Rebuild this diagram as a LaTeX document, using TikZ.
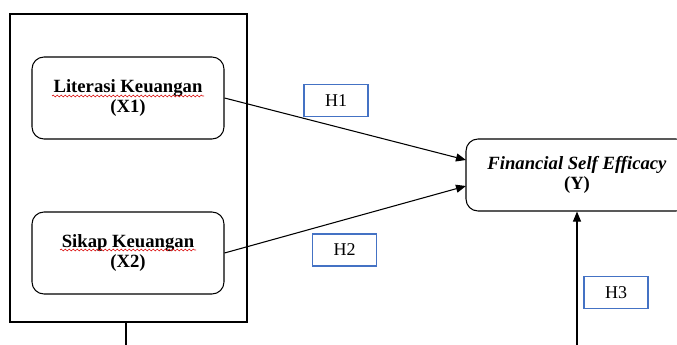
\documentclass[tikz,border=0pt]{standalone}
\usepackage{fontspec}
\setmainfont{Liberation Serif}
\usetikzlibrary{arrows.meta}
\usetikzlibrary{decorations.pathmorphing}

\definecolor{hblue}{RGB}{68,114,196}
\definecolor{spellred}{RGB}{220,30,30}

\begin{document}
\begin{tikzpicture}[x=0.75pt,y=-0.75pt,
		grp/.style={draw,line width=0.8pt,minimum width=177.75pt,minimum height=231pt,inner sep=0pt},
		var/.style={draw,line width=0.8pt,rounded corners=9pt,minimum width=144pt,minimum height=61.5pt,
			inner sep=0pt,align=center,font=\fontsize{14}{15.5}\selectfont\bfseries},
		hyp/.style={draw=hblue,line width=0.8pt,minimum width=48pt,minimum height=24pt,inner sep=0pt,
			font=\fontsize{13.5}{15}\selectfont},
		conn/.style={line width=0.8pt,-{Triangle[length=7.5pt,width=6pt]}},
		squiggle/.style={spellred,line width=0.5pt,decorate,decoration={snake,amplitude=0.7pt,segment length=3pt}}]
		\clip (0,0) rectangle (677,345);
		% group of independent variables
		\node[grp] (grp) at (128.5,168) {};
		\node[var] (x1) at (128,98) {Literasi Keuangan\\(X1)};
		\node[var] (x2) at (128,253) {Sikap Keuangan\\(X2)};
		\draw [squiggle] (52,96) -- (204,96);
		\draw [squiggle] (60,250) -- (196,250);
		% dependent variable
		\node[var,minimum width=166.5pt,minimum height=54pt] (y) at (577,175) {\textit{Financial Self Efficacy}\\(Y)};
		% hypotheses
		\node[hyp] (h1) at (336,100.5) {H1};
		\node[hyp] (h2) at (344.5,250) {H2};
		\node[hyp] (h3) at (616,292.5) {H3};
		\coordinate (yin1) at (466,160);
		\coordinate (yin2) at (466,186);
		\coordinate (src) at (577,345);
		\coordinate (grpend) at (126,345);
		\draw [conn] (x1.east) -- (yin1);
		\draw [conn] (x2.east) -- (yin2);
		\draw [conn] (src) -- (y.south);
		\draw [line width=0.8pt] (grpend |- grp.south) -- (grpend);
	\end{tikzpicture}
\end{document}
